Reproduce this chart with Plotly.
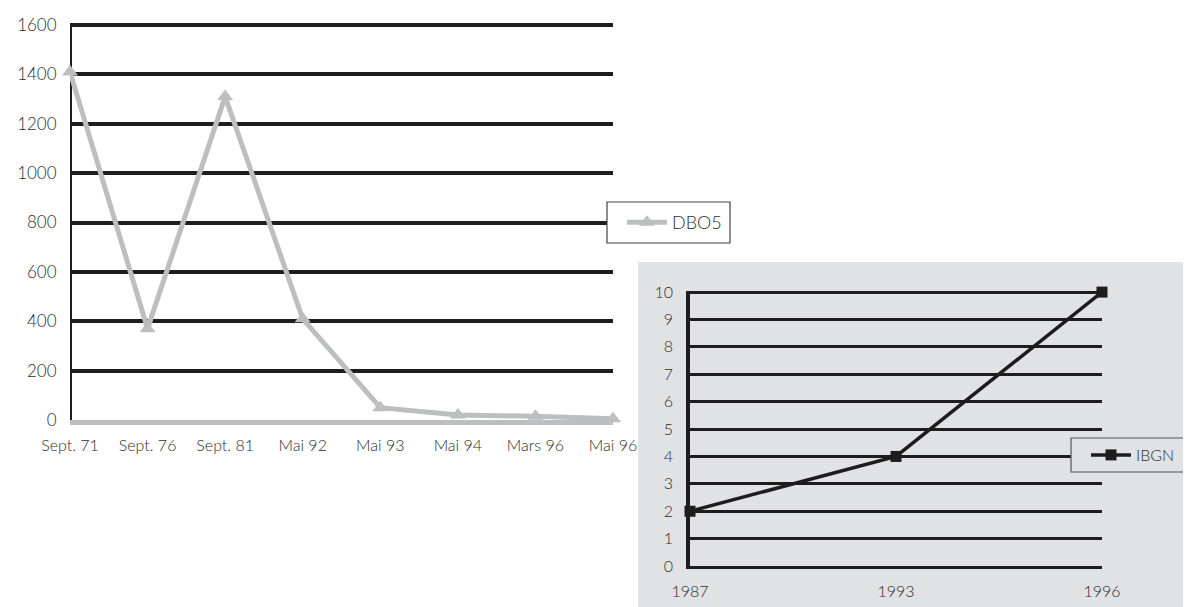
import plotly.graph_objects as go

# page offset introduced by default body margin
OFF = 8
W, H = 1191, 607 - OFF

# Left chart: DBO5
dbo_cats = ["Sept. 71", "Sept. 76", "Sept. 81", "Mai 92", "Mai 93", "Mai 94", "Mars 96", "Mai 96"]
dbo_vals = [1410, 370, 1310, 410, 50, 20, 15, 5]
dbo_ticks = [0, 200, 400, 600, 800, 1000, 1200, 1400, 1600]

# Right chart: IBGN
ibgn_cats = ["1987", "1993", "1996"]
ibgn_vals = [2, 4, 10]
ibgn_ticks = list(range(0, 11))

FONT = "Lato, 'DejaVu Sans', sans-serif"
TXT = "#2e2e2e"
GRAY = "#bdbec0"
PANEL = "#e1e2e4"
DARK = "#1e1c1d"

def px(x):
    return (x - OFF) / W

def py(y):
    return 1 - (y - OFF) / H

fig = go.Figure()

fig.add_trace(go.Scatter(
    x=list(range(len(dbo_cats))), y=dbo_vals, name="DBO5",
    mode="lines+markers",
    line=dict(color=GRAY, width=5),
    marker=dict(symbol="triangle-up", size=14, color=GRAY),
    cliponaxis=False, xaxis="x", yaxis="y", legend="legend",
))

fig.add_trace(go.Scatter(
    x=list(range(len(ibgn_cats))), y=ibgn_vals, name="IBGN",
    mode="lines+markers",
    line=dict(color=DARK, width=3.5),
    marker=dict(symbol="square", size=11, color=DARK),
    cliponaxis=False, xaxis="x2", yaxis="y2", legend="legend2",
))

# grey panel behind the right chart
fig.add_shape(type="rect", xref="paper", yref="paper",
              x0=px(638), x1=1.02, y0=-0.05, y1=py(262),
              fillcolor=PANEL, line=dict(width=0), layer="below")
# legend boxes
fig.add_shape(type="rect", xref="paper", yref="paper",
              x0=px(607), x1=px(730), y0=py(243), y1=py(202),
              fillcolor="white", line=dict(width=1.2, color="#444444"), layer="above")
fig.add_shape(type="rect", xref="paper", yref="paper",
              x0=px(1071), x1=px(1200), y0=py(472), y1=py(438),
              fillcolor=PANEL, line=dict(width=1.2, color="#555555"), layer="above")

tick_common = dict(ticks="outside", tickcolor="rgba(0,0,0,0)", automargin=False)

# y pixel scale for left chart: 0 at 420, 1600 at 25
Y_TOP = 1620
ytop_px = 420 - (420 - 25) * Y_TOP / 1600

fig.update_layout(
    width=W, height=H,
    margin=dict(l=0, r=0, t=0, b=0, autoexpand=False),
    paper_bgcolor="white",
    plot_bgcolor="rgba(0,0,0,0)",
    font=dict(family=FONT, size=15, color=TXT, weight=300),
    xaxis=dict(
        domain=[px(70), px(613)], range=[0, len(dbo_cats) - 1],
        tickmode="array", tickvals=list(range(len(dbo_cats))), ticktext=dbo_cats,
        showgrid=False, zeroline=False,
        showline=True, linecolor=GRAY, linewidth=5,
        ticklen=7, tickfont=dict(size=16, color=TXT, weight=300), anchor="y",
        **tick_common,
    ),
    yaxis=dict(
        domain=[py(420), py(ytop_px)], range=[0, Y_TOP],
        tickmode="array", tickvals=dbo_ticks,
        showgrid=True, gridcolor=DARK, gridwidth=3.5,
        zeroline=False,
        showline=False,
        ticklen=9, tickfont=dict(size=17, color=TXT, weight=300), anchor="x",
        **tick_common,
    ),
    xaxis2=dict(
        domain=[px(690), px(1102)], range=[0, len(ibgn_cats) - 1],
        tickmode="array", tickvals=list(range(len(ibgn_cats))), ticktext=ibgn_cats,
        showgrid=False, zeroline=False,
        showline=True, linecolor=DARK, linewidth=3,
        ticklen=9, tickfont=dict(size=16, color=TXT, weight=300), anchor="y2",
        **tick_common,
    ),
    yaxis2=dict(
        domain=[py(566), py(291)], range=[0, 10.04],
        tickmode="array", tickvals=ibgn_ticks,
        showgrid=True, gridcolor=DARK, gridwidth=3,
        zeroline=False,
        showline=True, linecolor=DARK, linewidth=3.5,
        ticklen=10, tickfont=dict(size=16, color=TXT, weight=300), anchor="x2",
        **tick_common,
    ),
    legend=dict(
        x=px(622), y=py(222.5), xanchor="left", yanchor="middle",
        bgcolor="rgba(0,0,0,0)", borderwidth=0,
        font=dict(size=18, color=TXT, weight=300), itemwidth=40,
    ),
    legend2=dict(
        x=px(1086), y=py(455), xanchor="left", yanchor="middle",
        bgcolor="rgba(0,0,0,0)", borderwidth=0,
        font=dict(size=16, color=TXT, weight=300), itemwidth=40,
    ),
    showlegend=True,
)

# vertical axis line of the left chart (from 0 to 1600)
fig.add_shape(type="line", xref="x", yref="y", x0=0, x1=0, y0=0, y1=dbo_ticks[-1],
              line=dict(color=DARK, width=4), layer="below")

fig.write_html("out.html")
